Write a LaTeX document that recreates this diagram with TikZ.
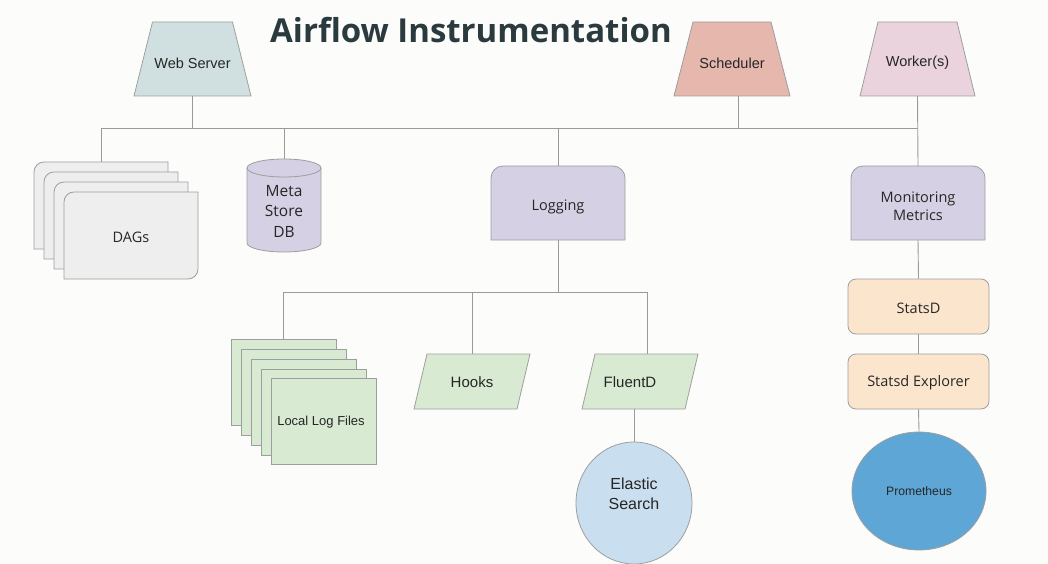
\documentclass[tikz,border=0pt]{standalone}
\usepackage{fontspec}
\setmainfont{Open Sans}
\newfontfamily\arialf{Liberation Sans}
\newfontfamily\opensf{Open Sans}
\usetikzlibrary{shapes.geometric}
\definecolor{bgc}{HTML}{FCFDFB}
\definecolor{linec}{HTML}{9A9A9A}
\definecolor{strokec}{HTML}{9E9E9E}
\definecolor{textc}{HTML}{262626}
\definecolor{titlec}{HTML}{2A3A3E}
\definecolor{wsc}{HTML}{D0E0E0}
\definecolor{schc}{HTML}{E6B7AD}
\definecolor{wkc}{HTML}{EAD3DC}
\definecolor{dagc}{HTML}{EEEEEE}
\definecolor{purc}{HTML}{D5D0E4}
\definecolor{greenc}{HTML}{D9EAD3}
\definecolor{esc}{HTML}{C9DEEF}
\definecolor{orc}{HTML}{FCE5CD}
\definecolor{promc}{HTML}{5EA6D6}
\newcommand\dagcardoutline[1]{\draw[shp,fill=dagc] (#1.south west) -- ([yshift=-10pt]#1.north west) arc[start angle=180,end angle=90,radius=10pt] -- (#1.north east) -- ([yshift=10pt]#1.south east) arc[start angle=0,end angle=-90,radius=10pt] -- cycle;}
\newcommand\toproundoutline[2]{\draw[shp,fill=#2] (#1.south west) -- ([yshift=-12pt]#1.north west) arc[start angle=180,end angle=90,radius=12pt] -- ([xshift=-12pt]#1.north east) arc[start angle=90,end angle=0,radius=12pt] -- (#1.south east) -- cycle;}
\newcommand\cylinderoutline[2]{\draw[shp,fill=#2] ([yshift=-9pt]#1.north west) -- ([yshift=9pt]#1.south west) arc[start angle=180,end angle=360,x radius=37pt,y radius=9pt] -- ([yshift=-9pt]#1.north east) arc[start angle=0,end angle=180,x radius=37pt,y radius=9pt] -- cycle;
\draw[shp] ([yshift=-9pt]#1.north west) arc[start angle=180,end angle=360,x radius=37pt,y radius=9pt];}
\newcommand\trapoutline[3]{\draw[shp,fill=#3] (#1.south west) -- ([xshift=#2]#1.north west) -- ([xshift=-#2]#1.north east) -- (#1.south east) -- cycle;}
\newcommand\paraoutline[1]{\draw[shp,fill=greenc] (#1.south west) -- ([xshift=13pt]#1.north west) -- (#1.north east) -- ([xshift=-13pt]#1.south east) -- cycle;}
\begin{document}
\begin{tikzpicture}[x=1pt,y=1pt,
  conn/.style={draw=linec,line width=0.9pt},
  shp/.style={draw=strokec,line width=0.8pt},
  holder/.style={inner sep=0pt,outer sep=0pt},
  arialtxt/.style={text=textc,font=\arialf\fontsize{14.5}{17}\selectfont},
  opentxt/.style={text=textc,font=\opensf\fontsize{14.5}{19}\selectfont,align=center},
  trapbox/.style={holder,minimum width=117pt,minimum height=74pt},
  parabox/.style={holder,minimum width=116pt,minimum height=55pt},
  paratxt/.style={text=textc,font=\arialf\fontsize{15}{18}\selectfont},
  dagcard/.style={holder,minimum width=134pt,minimum height=87pt},
  llfcard/.style={shp,fill=greenc,inner sep=0pt,minimum width=105pt,minimum height=86pt},
  mbox/.style={holder,minimum width=134pt,minimum height=74pt},
  obox/.style={shp,fill=orc,rounded corners=8pt,minimum width=141pt,minimum height=55pt,inner sep=0pt,opentxt}
]
\useasboundingbox[fill=bgc] (0,0) rectangle (1048,-564);

% title
\node[text=titlec,font=\opensf\bfseries\fontsize{33}{36}\selectfont] (title) at (471,-30) {Airflow Instrumentation};

% top components
\node[trapbox] (ws) at (192.5,-59) {};
\trapoutline{ws}{18.5pt}{wsc}
\node[arialtxt] (wst) at (192.5,-63) {Web Server};
\node[trapbox,minimum width=116pt] (sch) at (732,-59) {};
\trapoutline{sch}{19pt}{schc}
\node[arialtxt] (scht) at (732,-63) {Scheduler};
\node[trapbox,minimum width=115pt] (wk) at (917.5,-59) {};
\trapoutline{wk}{18pt}{wkc}
\node[arialtxt] (wkt) at (917.5,-63) {Worker(s)};

% DAG cards
\node[dagcard] (dag1) at (101,-205.5) {};
\dagcardoutline{dag1}
\node[dagcard] (dag2) at (111,-215.5) {};
\dagcardoutline{dag2}
\node[dagcard] (dag3) at (121,-225.5) {};
\dagcardoutline{dag3}
\node[dagcard] (dag4) at (131,-235.5) {};
\dagcardoutline{dag4}
\node[opentxt] (dagt) at (131,-237) {DAGs};

% meta store DB
\node[holder,minimum width=74pt,minimum height=93pt] (db) at (284,-205.5) {};
\cylinderoutline{db}{purc}
\node[opentxt,font=\opensf\fontsize{15.5}{20.5}\selectfont] (dbt) at (284,-211) {Meta\\Store\\DB};

% logging and monitoring
\node[mbox] (log) at (558,-203) {};
\toproundoutline{log}{purc}
\node[opentxt] (logt) at (558,-207) {Logging};
\node[mbox] (mon) at (918,-203) {};
\toproundoutline{mon}{purc}
\node[opentxt,font=\opensf\fontsize{14.5}{18}\selectfont] (mont) at (918,-206) {Monitoring\\Metrics};

% local log files
\node[llfcard] (llf1) at (283.5,-382) {};
\node[llfcard] (llf2) at (293.5,-392) {};
\node[llfcard] (llf3) at (303.5,-402) {};
\node[llfcard] (llf4) at (313.5,-412) {};
\node[llfcard] (llf5) at (323.5,-421.5) {};
\node[text=textc,font=\arialf\fontsize{13}{15}\selectfont] (llft) at (321,-422) {Local Log Files};

% hooks and fluentd
\node[parabox] (hk) at (472,-381.5) {};
\paraoutline{hk}
\node[paratxt] (hkt) at (472,-382) {Hooks};
\node[parabox] (fd) at (640,-381.5) {};
\paraoutline{fd}
\node[paratxt] (fdt) at (630,-382) {FluentD};

% elastic search
\node[shp,ellipse,fill=esc,minimum width=116pt,minimum height=122pt,inner sep=0pt] (es) at (634,-503) {};
\node[align=center,text=textc,font=\arialf\fontsize{16}{19.5}\selectfont] (est) at (634,-494) {Elastic\\Search};

% statsd chain
\node[obox] (sd) at (918.5,-306.5) {};
\node[opentxt] (sdt) at (918.5,-308) {StatsD};
\node[obox] (sx) at (918.5,-381.5) {};
\node[opentxt] (sxt) at (918.5,-383) {Statsd Explorer};
\node[shp,ellipse,fill=promc,minimum width=134pt,minimum height=118pt,inner sep=0pt,text=textc,font=\arialf\fontsize{12.2}{14}\selectfont] (prom) at (919,-491) {Prometheus};

% main bus
\coordinate (bus) at (0,-128);
\draw[conn] (dag1.north) |- (wk.south |- bus);
\draw[conn] (wk.south) -- (mon.north);
\draw[conn] (ws.south) -- (ws.south |- bus);
\draw[conn] ([xshift=6pt]sch.south) -- ([xshift=6pt]sch.south |- bus);
\draw[conn] (db.north) -- (db.north |- bus);
\draw[conn] (log.north) -- (log.north |- bus);

% logging bus
\coordinate (lbus) at (0,-292);
\draw[conn] (log.south) -- (log.south |- lbus);
\draw[conn] (llf1.north) |- ([xshift=7pt]fd.north |- lbus) -- ([xshift=7pt]fd.north);
\draw[conn] (hk.north) -- (hk.north |- lbus);
\draw[conn] (es.north) -- (es.north |- fd.south);

% monitoring chain
\draw[conn] (mon.south) -- (sd.north);
\draw[conn] (sd.south) -- (sx.north);
\draw[conn] (sx.south) -- (prom.north);
\end{tikzpicture}
\end{document}
